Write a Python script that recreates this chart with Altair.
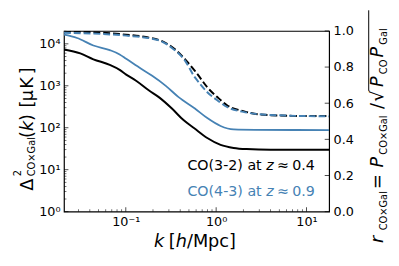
import altair as alt
import pandas as pd

# ---------------- data ----------------
k_co32 = [0.0207, 0.0314, 0.0438, 0.0665, 0.0855, 0.101, 0.130, 0.181, 0.232, 0.324,
          0.435, 0.573, 0.798, 1.12, 1.56, 2.17, 4.0, 17.8]
d_co32 = [7350, 5920, 4280, 3150, 2400, 1850, 1320, 770, 537, 287,
          152, 97, 57, 39, 33, 31, 30, 30]

k_co43 = [0.0207, 0.0289, 0.0438, 0.0665, 0.0855, 0.101, 0.141, 0.196, 0.275, 0.384,
          0.582, 0.798, 1.12, 1.56, 2.7, 17.8]
d_co43 = [16500, 13800, 9120, 7080, 5600, 4400, 2720, 1730, 1010, 537,
          287, 170, 110, 91, 89, 88]

k_r32 = [0.0207, 0.0438, 0.101, 0.167, 0.252, 0.353, 0.454, 0.582, 0.621, 0.798,
         1.03, 1.32, 2.0, 3.04, 7.0, 17.8]
r_32 = [0.997, 0.993, 0.979, 0.966, 0.943, 0.897, 0.843, 0.779, 0.761, 0.688,
        0.634, 0.589, 0.556, 0.538, 0.530, 0.529]

k_r43 = [0.0207, 0.101, 0.232, 0.324, 0.454, 0.582, 0.621, 0.798,
         1.03, 1.32, 2.0, 4.0, 17.8]
r_43 = [0.990, 0.974, 0.948, 0.906, 0.834, 0.743, 0.725, 0.661,
        0.616, 0.579, 0.552, 0.535, 0.527]

x_major = [0.1, 1, 10]
x_minor = [0.03, 0.04, 0.05, 0.06, 0.07, 0.08, 0.09,
           0.2, 0.3, 0.4, 0.5, 0.6, 0.7, 0.8, 0.9,
           2, 3, 4, 5, 6, 7, 8, 9]
y_major = [1, 10, 100, 1000, 10000]
y_minor = [m * d for d in [1, 10, 100, 1000] for m in range(2, 10)] + [20000]
r_ticks = [0.0, 0.2, 0.4, 0.6, 0.8, 1.0]

label_32 = ["CO(3-2) at", "z", "≈", "0.4"]
label_43 = ["CO(4-3) at", "z", "≈", "0.9"]

# ---------------- styling ----------------
W, H = 270, 184
OX, OY = 65, 29          # plot origin in page pixels
X_DOM = [0.0207, 17.8]
Y_DOM = [1, 20300]
FONT = "DejaVu Sans"
BLUE = "#4682b4"
MAJ, MIN = 4.5, 2.5

xs = alt.Scale(type="log", domain=X_DOM)
ys = alt.Scale(type="log", domain=Y_DOM)
rs = alt.Scale(domain=[0, 1])

dummy = pd.DataFrame({"a": [0]})


def txt(s, x, y, size, color="black", italic=False, angle=0):
    return alt.Chart(dummy).mark_text(
        text=s, font=FONT, fontSize=size, color=color,
        fontStyle="italic" if italic else "normal",
        align="left", baseline="alphabetic", angle=angle,
    ).encode(x=alt.value(x - OX), y=alt.value(y - OY))


x_axis = alt.Axis(values=x_major, ticks=False, domain=False, grid=False, title=None,
                  labelExpr="datum.value < 0.5 ? '10⁻¹' : (datum.value < 5 ? '10⁰' : '10¹')",
                  labelFont=FONT, labelFontSize=13, labelColor="black", labelPadding=4,
                  labelFlush=False)
y_axis = alt.Axis(values=y_major, ticks=False, domain=False, grid=False, title=None,
                  labelExpr="'10' + ['⁰','¹','²','³','⁴'][round(log(datum.value)/LN10)]",
                  labelFont=FONT, labelFontSize=13, labelColor="black", labelPadding=4,
                  labelFlush=False)
r_axis = alt.Axis(values=r_ticks, ticks=False, domain=False, grid=False, title=None,
                  format=".1f", orient="right",
                  labelFont=FONT, labelFontSize=13, labelColor="black", labelPadding=4,
                  labelFlush=False)

X = alt.X("k:Q", scale=xs, axis=x_axis)

df32 = pd.DataFrame({"k": k_co32, "v": d_co32})
df43 = pd.DataFrame({"k": k_co43, "v": d_co43})
dr32 = pd.DataFrame({"k": k_r32, "r": r_32})
dr43 = pd.DataFrame({"k": k_r43, "r": r_43})

YL = alt.Y("v:Q", scale=ys, axis=y_axis)
YR = alt.Y("r:Q", scale=rs, axis=r_axis)

line32 = alt.Chart(df32).mark_line(color="black", strokeWidth=2, clip=True,
                                   interpolate="monotone").encode(x=X, y=YL)
line43 = alt.Chart(df43).mark_line(color=BLUE, strokeWidth=1.8, clip=True,
                                   interpolate="monotone").encode(x=X, y=YL)

xmaj = alt.Chart(pd.DataFrame({"k": x_major})).mark_tick(
    orient="vertical", color="black", thickness=1, size=MAJ).encode(x=X, y=alt.value(H - MAJ / 2))
xmin = alt.Chart(pd.DataFrame({"k": x_minor})).mark_tick(
    orient="vertical", color="black", thickness=0.8, size=MIN).encode(x=X, y=alt.value(H - MIN / 2))
ymaj = alt.Chart(pd.DataFrame({"v": y_major})).mark_tick(
    orient="horizontal", color="black", thickness=1, size=MAJ).encode(y=YL, x=alt.value(MAJ / 2))
ymin = alt.Chart(pd.DataFrame({"v": y_minor})).mark_tick(
    orient="horizontal", color="black", thickness=0.8, size=MIN).encode(y=YL, x=alt.value(MIN / 2))

left = alt.layer(line32, line43, xmaj, xmin, ymaj, ymin)

dash32 = alt.Chart(dr32).mark_line(color="black", strokeWidth=2, strokeDash=[7, 3], clip=True,
                                   interpolate="monotone").encode(x=X, y=YR)
dash43 = alt.Chart(dr43).mark_line(color=BLUE, strokeWidth=2, strokeDash=[7, 3], clip=True,
                                   interpolate="monotone").encode(x=X, y=YR)
rtick = alt.Chart(pd.DataFrame({"r": r_ticks})).mark_tick(
    orient="horizontal", color="black", thickness=1, size=MAJ).encode(y=YR, x=alt.value(W - MAJ / 2))

right = alt.layer(dash32, dash43, rtick)

FS = 14.5
texts = [
    # annotations
    txt(label_32[0], 190.7, 171, FS),
    txt(label_32[1], 271, 171, FS, italic=True),
    txt(label_32[2], 282, 171, FS),
    txt(label_32[3], 297.5, 171, FS),
    txt(label_43[0], 190.7, 196.7, FS, color=BLUE),
    txt(label_43[1], 271, 196.7, FS, color=BLUE, italic=True),
    txt(label_43[2], 282, 196.7, FS, color=BLUE),
    txt(label_43[3], 297.5, 196.7, FS, color=BLUE),
    # x title
    txt("k", 156.7, 248.7, 18, italic=True),
    txt("[", 171.7, 248.7, 18),
    txt("h", 178.7, 248.7, 18, italic=True),
    txt("/Mpc]", 190.2, 248.7, 18),
    # left title (rotated)
    txt("Δ", 33, 191.7, 18, angle=270),
    txt("2", 21.3, 177, 10, angle=270),
    txt("CO×Gal", 35, 177, 10, angle=270),
    txt("(", 33, 138, 18, angle=270),
    txt("k", 33, 131, 18, italic=True, angle=270),
    txt(")", 33, 120.6, 18, angle=270),
    txt("[", 33, 107, 18, angle=270),
    txt("μ", 33, 100.5, 18, angle=270),
    txt("K", 33, 88, 18, angle=270),
    txt("]", 33, 73, 18, angle=270),
    # right title (rotated)
    txt("r", 390, 245, 18, italic=True, angle=270),
    txt("CO×Gal", 394, 232, 10, angle=270),
    txt("=", 390, 190, 18, angle=270),
    txt("P", 390, 168, 18, italic=True, angle=270),
    txt("CO×Gal", 394, 155, 10, angle=270),
    txt("/", 390, 108.5, 18, angle=270),
    txt("√", 390, 101, 18, angle=270),
    txt("P", 390, 86, 18, italic=True, angle=270),
    txt("CO", 394, 73, 10, angle=270),
    txt("P", 390, 56, 18, italic=True, angle=270),
    txt("Gal", 394, 43, 10, angle=270),
]
overline = alt.Chart(dummy).mark_rule(color="black", strokeWidth=1).encode(
    x=alt.value(375.3 - OX), y=alt.value(8 - OY), y2=alt.value(90 - OY))

chart = alt.layer(left, right, *texts, overline).resolve_scale(y="independent").properties(
    width=W, height=H,
    background="white",
    autosize=alt.AutoSizeParams(type="none"),
    padding={"left": OX - 8, "top": OY - 8, "right": 398 - OX - W, "bottom": 265 - OY - H},
).configure_view(stroke="black", strokeWidth=1.2)

chart.save("out.html", embed_options={"renderer": "svg", "actions": False})
